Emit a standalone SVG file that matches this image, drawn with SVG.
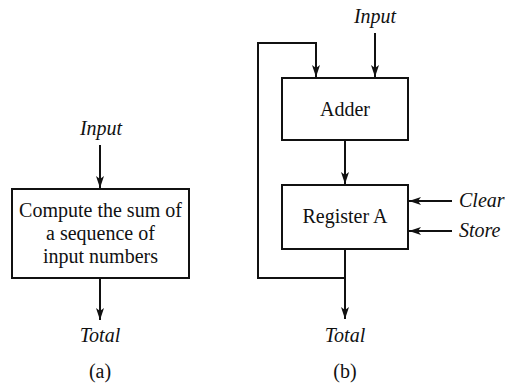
<svg xmlns="http://www.w3.org/2000/svg" width="505" height="384" viewBox="0 0 505 384">
<style>
  .box { fill: #fff; stroke: #111; stroke-width: 2; }
  .ln { fill: none; stroke: #111; stroke-width: 2; }
  .t { font-family: "Liberation Serif", "Times New Roman", serif; font-size: 20px; fill: #111; text-anchor: middle; }
  .i { font-style: italic; }
</style>
<defs>
  <marker id="ah" viewBox="0 0 12 8" refX="12" refY="4" markerWidth="12" markerHeight="8" markerUnits="userSpaceOnUse" orient="auto">
    <path d="M0,0 L12,4 L0,8 L3,4 Z" fill="#111"/>
  </marker>
</defs>
<g id="connectors">
  <line class="ln" x1="100" y1="145" x2="100" y2="188" marker-end="url(#ah)"/>
  <line class="ln" x1="100" y1="278" x2="100" y2="320" marker-end="url(#ah)"/>
  <line class="ln" x1="375" y1="33" x2="375" y2="77" marker-end="url(#ah)"/>
  <polyline class="ln" points="345,278 258,278 258,43 316,43 316,77" marker-end="url(#ah)"/>
  <line class="ln" x1="345" y1="140" x2="345" y2="184" marker-end="url(#ah)"/>
  <line class="ln" x1="345" y1="249" x2="345" y2="319" marker-end="url(#ah)"/>
  <line class="ln" x1="452" y1="201" x2="409" y2="201" marker-end="url(#ah)"/>
  <line class="ln" x1="452" y1="231" x2="409" y2="231" marker-end="url(#ah)"/>
</g>
<g id="compute">
  <rect class="box" x="12" y="189" width="177" height="89"/>
  <text class="t" x="100.5" y="217">Compute the sum of</text>
  <text class="t" x="100.5" y="240">a sequence of</text>
  <text class="t" x="100.5" y="263">input numbers</text>
</g>
<g id="adder">
  <rect class="box" x="282" y="78" width="126" height="62"/>
  <text class="t" x="345" y="116">Adder</text>
</g>
<g id="registerA">
  <rect class="box" x="282" y="185" width="126" height="64"/>
  <text class="t" x="345" y="223">Register A</text>
</g>
<g id="labels">
  <text class="t i" x="101" y="135">Input</text>
  <text class="t i" x="100" y="342">Total</text>
  <text class="t" x="100" y="378">(a)</text>
  <text class="t i" x="375" y="23">Input</text>
  <text class="t i" x="345" y="342">Total</text>
  <text class="t" x="345" y="378">(b)</text>
  <text class="t i" x="459" y="207" style="text-anchor:start">Clear</text>
  <text class="t i" x="459" y="237" style="text-anchor:start">Store</text>
</g>
</svg>
